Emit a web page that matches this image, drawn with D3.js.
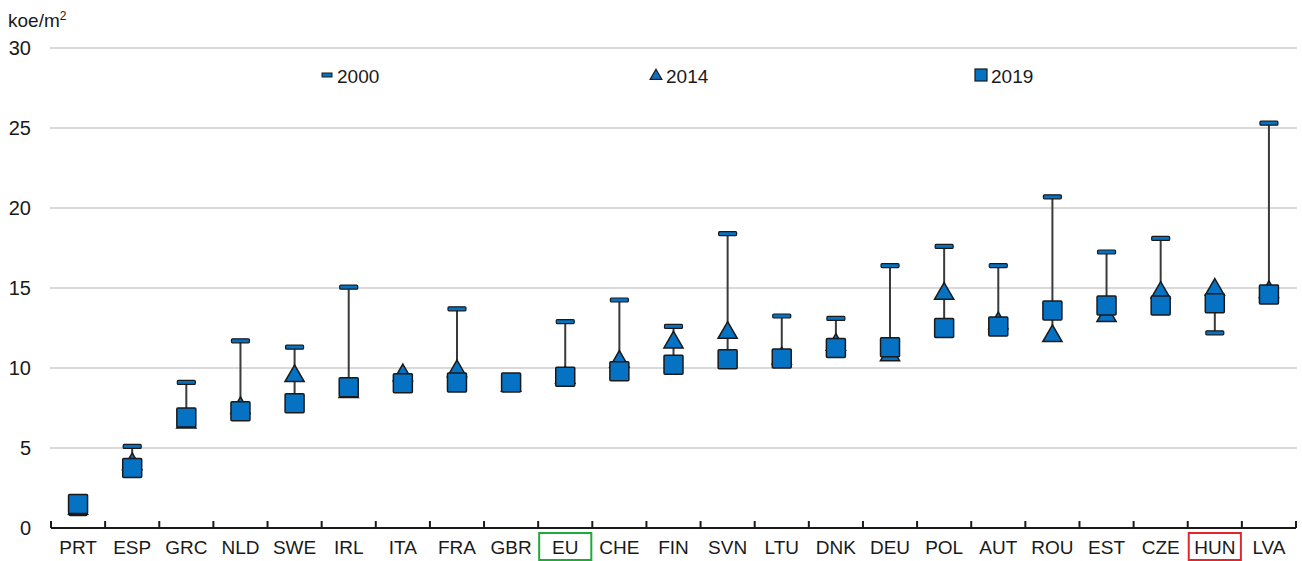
<!DOCTYPE html>
<html>
<head>
<meta charset="utf-8">
<script src="https://cdn.jsdelivr.net/npm/d3@7"></script>
<style>
  body { margin: 0; background: #fff; }
  svg text { font-family: "Liberation Sans", Arial, sans-serif; fill: #1a1a1a; }
</style>
</head>
<body>
<div id="chart"></div>
<script>
const countries = ['PRT', 'ESP', 'GRC', 'NLD', 'SWE', 'IRL', 'ITA', 'FRA', 'GBR', 'EU', 'CHE', 'FIN',
                   'SVN', 'LTU', 'DNK', 'DEU', 'POL', 'AUT', 'ROU', 'EST', 'CZE', 'HUN', 'LVA'];
const v2000 = [0.9, 5.1, 9.1, 11.7, 11.3, 15.05, 9.3, 13.7, 8.8, 12.9, 14.25, 12.6,
               18.4, 13.25, 13.1, 16.4, 17.6, 16.4, 20.7, 17.25, 18.1, 12.2, 25.3];
const v2014 = [1.2, 4.0, 6.6, 7.5, 9.5, 8.5, 9.55, 9.8, 8.9, 9.4, 10.4, 11.6,
               12.2, 10.6, 11.45, 10.8, 14.65, 12.8, 12.0, 13.25, 14.7, 14.9, 14.75];
const v2019 = [1.5, 3.75, 6.9, 7.3, 7.8, 8.8, 9.05, 9.1, 9.1, 9.45, 9.8, 10.2,
               10.55, 10.6, 11.25, 11.3, 12.5, 12.6, 13.6, 13.9, 13.9, 14.05, 14.6];
const yTicks = [0, 5, 10, 15, 20, 25, 30];
const legendItems = ['2000', '2014', '2019'];
const boxed = {EU: '#1faa3a', HUN: '#e3262b'};

const w = 1302;
const h = 561;
const blue = '#0572c3';
const dark = '#1a1a1a';

const data = countries.map((c, i) => ({c: c, a: v2000[i], b: v2014[i], s: v2019[i]}));

const svg = d3.select('#chart')
              .append('svg')
              .attr('width', w)
              .attr('height', h);

const x = d3.scaleBand()
            .domain(countries)
            .range([51, 1296]);

const y = d3.scaleLinear()
            .domain([0, 30])
            .range([528, 48]);

// gridlines
svg.append('g')
   .selectAll('line')
   .data(yTicks.filter(d => d > 0))
   .enter()
   .append('line')
   .attr('x1', 50)
   .attr('x2', 1297)
   .attr('y1', d => y(d))
   .attr('y2', d => y(d))
   .attr('stroke', '#d9d9d9')
   .attr('stroke-width', 2);

// y labels
svg.append('g')
   .selectAll('text')
   .data(yTicks)
   .enter()
   .append('text')
   .attr('x', 31)
   .attr('y', d => y(d) + 7)
   .attr('text-anchor', 'end')
   .style('font-size', '20px')
   .text(d => d);

const unit = svg.append('text')
                .attr('x', 8)
                .attr('y', 27)
                .style('font-size', '19px')
                .text('koe/m');
unit.append('tspan')
    .attr('dy', -7)
    .style('font-size', '12px')
    .text('2');

// x axis
const xAxis = d3.axisBottom(x).tickSize(0).tickPadding(13);
const gx = svg.append('g')
              .attr('transform', 'translate(0,528)')
              .call(xAxis);
gx.select('.domain').remove();
gx.selectAll('text')
  .style('font-size', '19px')
  .attr('fill', dark);

svg.append('line')
   .attr('x1', 51).attr('x2', 1296)
   .attr('y1', 528).attr('y2', 528)
   .attr('stroke', dark)
   .attr('stroke-width', 2);

const edges = countries.map(c => x(c)).concat([x.range()[1]]);
svg.append('g')
   .selectAll('line')
   .data(edges)
   .enter()
   .append('line')
   .attr('x1', d => d).attr('x2', d => d)
   .attr('y1', 521).attr('y2', 528)
   .attr('stroke', dark)
   .attr('stroke-width', 2);

// boxes around EU and HUN
svg.append('g')
   .selectAll('rect')
   .data(Object.keys(boxed))
   .enter()
   .append('rect')
   .attr('x', d => x(d) + 1)
   .attr('y', 533)
   .attr('width', x.bandwidth() - 2)
   .attr('height', 27)
   .attr('fill', 'none')
   .attr('stroke', d => boxed[d])
   .attr('stroke-width', 2);

// range lines
svg.append('g')
   .selectAll('line')
   .data(data)
   .enter()
   .append('line')
   .attr('x1', d => x(d.c) + x.bandwidth() / 2)
   .attr('x2', d => x(d.c) + x.bandwidth() / 2)
   .attr('y1', d => y(Math.max(d.a, d.b, d.s)))
   .attr('y2', d => y(Math.min(d.a, d.b, d.s)))
   .attr('stroke', '#3a3a3a')
   .attr('stroke-width', 2);

// 2000 dashes
svg.append('g')
   .selectAll('rect')
   .data(data)
   .enter()
   .append('rect')
   .attr('x', d => x(d.c) + x.bandwidth() / 2 - 9)
   .attr('y', d => y(d.a) - 2)
   .attr('width', 18)
   .attr('height', 4)
   .attr('rx', 1)
   .attr('fill', blue)
   .attr('stroke', dark)
   .attr('stroke-width', 1.2);

// 2014 triangles
const tri = d3.symbol().type(d3.symbolTriangle).size(160);
svg.append('g')
   .selectAll('path')
   .data(data)
   .enter()
   .append('path')
   .attr('d', tri)
   .attr('transform', d => `translate(${x(d.c) + x.bandwidth() / 2},${y(d.b)})`)
   .attr('fill', blue)
   .attr('stroke', dark)
   .attr('stroke-width', 1.5);

// 2019 squares
svg.append('g')
   .selectAll('rect')
   .data(data)
   .enter()
   .append('rect')
   .attr('x', d => x(d.c) + x.bandwidth() / 2 - 9.5)
   .attr('y', d => y(d.s) - 9.5)
   .attr('width', 19)
   .attr('height', 19)
   .attr('rx', 1)
   .attr('fill', blue)
   .attr('stroke', dark)
   .attr('stroke-width', 1.5);

// legend
const legendX = [322, 650, 975];
const lg = svg.append('g');
lg.append('rect')
  .attr('x', legendX[0]).attr('y', 73)
  .attr('width', 10).attr('height', 4)
  .attr('fill', blue).attr('stroke', dark).attr('stroke-width', 1);
lg.append('path')
  .attr('d', d3.symbol().type(d3.symbolTriangle).size(60))
  .attr('transform', `translate(${legendX[1] + 6},76)`)
  .attr('fill', blue).attr('stroke', dark).attr('stroke-width', 1.2);
lg.append('rect')
  .attr('x', legendX[2]).attr('y', 69)
  .attr('width', 12).attr('height', 12)
  .attr('fill', blue).attr('stroke', dark).attr('stroke-width', 1.2);
lg.selectAll('text')
  .data(legendItems)
  .enter()
  .append('text')
  .attr('x', (d, i) => legendX[i] + (i === 0 ? 15 : 16))
  .attr('y', 83)
  .style('font-size', '19px')
  .text(d => d);
</script>
</body>
</html>
